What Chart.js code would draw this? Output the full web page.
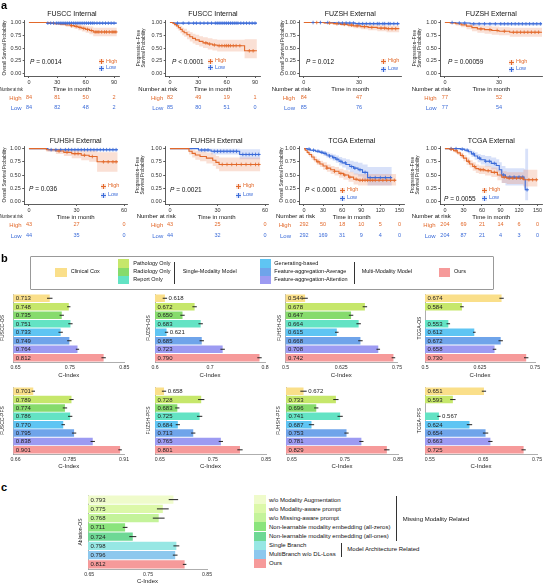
<!DOCTYPE html>
<html lang="en">
<head>
<meta charset="UTF-8">
<title>KM curves and C-index</title>
<script src="https://cdn.jsdelivr.net/npm/chart.js@4.4.0/dist/chart.umd.min.js"></script>
<style>
body { margin: 0; background: #fff; }
#page { position: relative; width: 546px; height: 584px; overflow: hidden; font-family: 'Liberation Sans', Arial, sans-serif; }
#page canvas { position: absolute; }
.t { position: absolute; white-space: nowrap; line-height: 1; }
.sw { position: absolute; }
.br { position: absolute; border: 1px solid #333; border-left: none; width: 3px; }
</style>
</head>
<body>
<div id="page"></div>
<script>
// ---------- panel a : Kaplan-Meier rows are [time, surv, lower, upper]
const fusccOsHigh = [[0,1,1,1],[21,0.99,0.97,1],[27,0.978,0.95,1],[33,0.966,0.935,0.995],[39,0.953,0.915,0.99],[44,0.94,0.9,0.98],[48,0.925,0.88,0.97],[52,0.905,0.85,0.96],[56,0.885,0.825,0.945],[60,0.865,0.8,0.93],[64,0.845,0.77,0.92],[68,0.815,0.73,0.9],[93,0.815,0.73,0.9]];
const fusccOsLow = [[0,1,1,1],[19,0.988,0.97,1],[93,0.988,0.97,1]];
const fusccOsHighCens = [45,50,54,58,62,66,70,72,74,77,80,82,85,88,90,92];
const fusccOsLowCens = [20,23,26,29,31,33,35,37,39,41,43,45,47,49,51,53,55,57,59,61,63,65,67,69,72,75,78,81,84,87,90];

const fusccPfsHigh = [[0,1,1,1],[3,0.985,0.96,1],[5,0.96,0.92,1],[7,0.935,0.88,0.98],[9,0.9,0.84,0.96],[11,0.865,0.79,0.93],[13,0.83,0.75,0.9],[15,0.8,0.72,0.88],[18,0.76,0.67,0.84],[21,0.72,0.63,0.81],[24,0.69,0.59,0.78],[27,0.66,0.56,0.76],[31,0.63,0.53,0.73],[35,0.6,0.5,0.71],[40,0.58,0.47,0.69],[45,0.56,0.45,0.67],[50,0.545,0.43,0.66],[79,0.445,0.3,0.67],[92,0.445,0.3,0.67]];
const fusccPfsLow = [[0,1,1,1],[4,0.988,0.965,1],[92,0.988,0.965,1]];
const fusccPfsHighCens = [38,42,47,52,55,58,60,62,64,67,70,74,84,88];
const fusccPfsLowCens = [8,14,20,25,28,32,36,40,44,48,50,52,54,56,58,60,62,64,66,68,70,72,75,78,81,84,87,90];

const fuzshOsHigh = [[0,1,1,1],[11,0.99,0.97,1],[16,0.978,0.95,1],[20,0.965,0.93,1],[24,0.95,0.91,0.99],[27,0.935,0.89,0.98],[31,0.92,0.87,0.97],[35,0.905,0.85,0.96],[40,0.89,0.83,0.95],[45,0.88,0.81,0.94],[52,0.88,0.81,0.94]];
const fuzshOsLow = [[0,1,1,1],[17,0.99,0.97,1],[28,0.978,0.95,1],[52,0.978,0.95,1]];
const fuzshOsHighCens = [7,14,18,22,26,29,33,37,42,44,46,48,50];
const fuzshOsLowCens = [5,9,13,19,21,23,25,27,30,32,34,36,38,40,41,43,44,46,47,49,51];

const fuzshPfsHigh = [[0,1,1,1],[3,0.99,0.97,1],[6,0.975,0.94,1],[9,0.955,0.91,0.99],[12,0.93,0.87,0.98],[15,0.9,0.83,0.96],[18,0.875,0.8,0.94],[22,0.86,0.78,0.93],[26,0.845,0.76,0.92],[30,0.83,0.75,0.91],[36,0.81,0.72,0.9],[54,0.81,0.72,0.9]];
const fuzshPfsLow = [[0,1,1,1],[6,0.99,0.97,1],[14,0.975,0.94,1],[54,0.975,0.94,1]];
const fuzshPfsHighCens = [20,25,29,33,38,40,42,44,46,48,50,52];
const fuzshPfsLowCens = [4,8,11,16,19,22,25,28,31,33,35,37,39,41,43,45,47,49,51,53];

const fuhshOsHigh = [[0,1,1,1],[11,0.98,0.94,1],[17,0.955,0.9,1],[22,0.93,0.86,1],[27,0.905,0.82,0.99],[33,0.875,0.78,0.97],[38,0.85,0.75,0.96],[43,0.75,0.56,0.93],[56,0.75,0.56,0.93]];
const fuhshOsLow = [[0,1,1,1],[12,0.98,0.95,1],[56,0.98,0.95,1]];
const fuhshOsHighCens = [19,24,29,31,35,40,47,50,53,55];
const fuhshOsLowCens = [14,17,20,23,25,27,29,31,33,35,37,39,41,43,45,47,49,51,53,55];

const fuhshPfsHigh = [[0,1,1,1],[12,0.95,0.89,1],[14,0.91,0.83,0.98],[16,0.88,0.79,0.96],[19,0.85,0.76,0.94],[23,0.82,0.72,0.92],[27,0.78,0.67,0.89],[29,0.74,0.62,0.86],[31,0.7,0.57,0.83],[57,0.7,0.57,0.83]];
const fuhshPfsLow = [[0,1,1,1],[18,0.975,0.93,1],[26,0.95,0.89,1],[44,0.89,0.8,0.99],[57,0.89,0.8,0.99]];
const fuhshPfsHighCens = [33,36,39,42,45,48,51,54,56];
const fuhshPfsLowCens = [20,22,24,28,30,32,34,36,38,40,42,46,48,50,52,54,56];

const tcgaOsHigh = [[0,1,1,1],[2,0.97,0.95,0.99],[5,0.93,0.9,0.96],[8,0.89,0.85,0.93],[12,0.84,0.79,0.89],[16,0.79,0.74,0.85],[20,0.75,0.69,0.81],[25,0.71,0.65,0.77],[30,0.67,0.6,0.74],[36,0.63,0.56,0.7],[42,0.6,0.52,0.67],[48,0.57,0.49,0.65],[55,0.53,0.45,0.62],[62,0.5,0.41,0.59],[70,0.46,0.37,0.56],[78,0.42,0.32,0.53],[85,0.4,0.3,0.52],[145,0.4,0.3,0.52]];
const tcgaOsLow = [[0,1,1,1],[5,0.99,0.97,1],[10,0.97,0.95,0.99],[18,0.95,0.92,0.98],[25,0.93,0.9,0.96],[30,0.91,0.87,0.95],[35,0.88,0.83,0.93],[40,0.86,0.8,0.91],[45,0.83,0.77,0.89],[50,0.8,0.73,0.87],[55,0.76,0.68,0.84],[60,0.73,0.64,0.82],[66,0.7,0.6,0.8],[72,0.66,0.55,0.77],[78,0.63,0.51,0.75],[85,0.6,0.47,0.73],[92,0.55,0.41,0.7],[100,0.45,0.3,0.65],[138,0.45,0.3,0.65]];
const tcgaOsHighCens = [22,36,48,58,64,72,82,88,92,96,100,104,108,112,118,124,130,136,142];
const tcgaOsLowCens = [8,15,22,28,33,40,47,52,58,65,75,80,88,96,104,112,120,128,136];

const tcgaPfsHigh = [[0,1,1,1],[8,0.99,0.97,1],[14,0.96,0.93,0.99],[20,0.92,0.88,0.96],[25,0.87,0.82,0.92],[30,0.82,0.76,0.88],[35,0.76,0.69,0.83],[40,0.71,0.64,0.78],[45,0.66,0.58,0.74],[50,0.62,0.54,0.7],[55,0.6,0.52,0.68],[65,0.58,0.49,0.67],[75,0.55,0.46,0.64],[85,0.5,0.4,0.6],[92,0.46,0.35,0.57],[100,0.44,0.33,0.55],[127,0.41,0.28,0.6],[150,0.41,0.28,0.6]];
const tcgaPfsLow = [[0,1,1,1],[25,0.99,0.97,1],[32,0.97,0.93,1],[38,0.94,0.89,0.99],[43,0.9,0.84,0.96],[48,0.86,0.79,0.93],[53,0.82,0.74,0.9],[58,0.79,0.7,0.88],[65,0.76,0.66,0.86],[75,0.72,0.61,0.83],[83,0.68,0.56,0.8],[88,0.6,0.46,0.74],[92,0.5,0.35,0.67],[98,0.46,0.3,0.63],[128,0.42,0.25,0.62],[130,0.22,0.02,1],[135,0.22,0.02,1]];
const tcgaPfsHighCens = [10,18,28,38,48,58,62,70,80,96,104,110,116,122,126,136,142,148];
const tcgaPfsLowCens = [10,18,28,36,46,56,66,72,80,95,105,112,120,126,133];

// number at risk, High / Low
const riskHigh = [[84,81,50,2],[82,49,19,1],[84,47],[77,52],[43,27,0],[43,25,0],[292,50,18,10,5,0],[204,69,21,14,6,0]];
const riskLow = [[84,82,48,2],[85,80,51,0],[85,76],[77,54],[44,35,0],[44,32,0],[292,169,31,9,4,0],[204,87,21,4,3,0]];
const kmTitles = ['FUSCC Internal','FUSCC Internal','FUZSH External','FUZSH External','FUHSH External','FUHSH External','TCGA External','TCGA External'];
const pValues = ['= 0.0014','&lt; 0.0001','= 0.012','= 0.00059','= 0.036','= 0.0021','&lt; 0.0001','= 0.0055'];
const kmYTicks = [0, 0.25, 0.5, 0.75, 1];

// ---------- panel b : C-index
const methods = ['Clinical Cox','Pathology Only','Radiology Only','Report Only','Generating-based','Feature-aggregation-Average','Feature-aggregation-Attention','Ours'];
const methodColors = ['#FADF8A','#C6E76B','#86DB6C','#63E3C4','#5FC5F3','#6FA4EA','#9D9BF2','#F69A9A'];
const fusccOsC = [0.713,0.748,0.735,0.751,0.733,0.749,0.764,0.812];
const fusccOsErr = [0.005,0.003,0.004,0.004,0.004,0.004,0.003,0.004];
const fuzshOsC = [0.618,0.672,0.650,0.683,0.621,0.685,0.723,0.790];
const fuzshOsErr = [0.004,0.004,0.004,0.004,0.003,0.004,0.004,0.004];
const fuhshOsC = [0.544,0.678,0.647,0.664,0.615,0.668,0.708,0.742];
const fuhshOsErr = [0.006,0.005,0.005,0.005,0.004,0.005,0.004,0.004];
const tcgaOsC = [0.674,0.584,null,0.553,0.612,0.672,0.658,0.730];
const tcgaOsErr = [0.005,0.004,0,0.004,0.003,0.005,0.004,0.005];
const fusccPfsC = [0.701,0.789,0.774,0.786,0.770,0.795,0.838,0.901];
const fusccPfsErr = [0.004,0.005,0.005,0.005,0.004,0.005,0.005,0.004];
const fuzshPfsC = [0.658,0.728,0.683,0.725,0.684,0.713,0.765,0.801];
const fuzshPfsErr = [0.004,0.006,0.004,0.005,0.004,0.004,0.004,0.005];
const fuhshPfsC = [0.672,0.733,0.696,0.741,0.687,0.753,0.781,0.829];
const fuhshPfsErr = [0.006,0.005,0.004,0.005,0.005,0.004,0.004,0.005];
const tcgaPfsC = [0.651,0.593,null,0.567,0.624,0.654,0.663,0.725];
const tcgaPfsErr = [0.004,0.005,0,0.003,0.005,0.005,0.004,0.004];

// ---------- panel c : ablation
const ablations = ['w/o Modality Augmentation','w/o Modality-aware prompt','w/o Missing-aware prompt','Non-learnable modality embedding (all-zeros)','Non-learnable modality embedding (all-ones)','Single Branch','MultiBranch w/o DL-Loss','Ours'];
const ablationColors = ['#EFFBCB','#DCF8A8','#C4F39A','#8AE47C','#6ED895','#97E7E4','#8DC8EE','#F69A9A'];
const ablationC = [0.793,0.775,0.768,0.711,0.724,0.798,0.796,0.812];
const ablationErr = [0.008,0.01,0.01,0.004,0.006,0.005,0.004,0.003];

const HIGH = '#E2692B', LOW = '#3B6BD8';
const HIGH_BAND = 'rgba(238,140,100,0.27)', LOW_BAND = 'rgba(90,130,230,0.24)';

Chart.defaults.font.family = "'Liberation Sans', Arial, sans-serif";
Chart.defaults.color = '#222';
Chart.defaults.animation = false;
Chart.defaults.responsive = false;
Chart.defaults.events = [];
Chart.defaults.plugins.legend.display = false;
Chart.defaults.plugins.tooltip.enabled = false;

const page = document.getElementById('page');

function txt(x, y, s, size, color, align, extra) {
  const d = document.createElement('div');
  d.className = 't';
  d.innerHTML = s;
  const tx = align === 'right' ? '-100%' : align === 'center' ? '-50%' : '0';
  d.style.cssText = `left:${x}px;top:${y}px;font-size:${size}px;color:${color || '#111'};transform:translate(${tx},-50%);${extra || ''}`;
  page.appendChild(d);
  return d;
}
function box(x, y, w, h, bg, cls) {
  const d = document.createElement('div');
  d.className = cls || 'sw';
  d.style.left = x + 'px'; d.style.top = y + 'px';
  d.style.width = w + 'px'; d.style.height = h + 'px';
  if (bg) d.style.background = bg;
  page.appendChild(d);
  return d;
}
function addCanvas(left, top, w, h) {
  const c = document.createElement('canvas');
  c.width = w; c.height = h;
  c.style.left = left + 'px'; c.style.top = top + 'px';
  c.style.width = w + 'px'; c.style.height = h + 'px';
  page.appendChild(c);
  return c;
}
function survAt(rows, t) {
  let s = 1;
  rows.forEach(r => { if (r[0] <= t) s = r[1]; });
  return s;
}

// layout of the 8 survival panels (plot area in page px)
const kmPlots = [
  {high: fusccOsHigh, low: fusccOsLow, hc: fusccOsHighCens, lc: fusccOsLowCens, left: 24.7, right: 120.3, min: -4.5, max: 95.5, ticks: [0,30,60,90], tx: 4, os: true, p: [30,62], key: [99,61.5,68.3], nr: [0, 21.7], squeeze: true},
  {high: fusccPfsHigh, low: fusccPfsLow, hc: fusccPfsHighCens, lc: fusccPfsLowCens, left: 165.7, right: 261.3, min: -4.5, max: 95.5, ticks: [0,30,60,90], tx: 138, os: false, p: [172,61.5], key: [208,61,67.5], nr: [138.3, 163.3]},
  {high: fuzshOsHigh, low: fuzshOsLow, hc: fuzshOsHighCens, lc: fuzshOsLowCens, left: 299.3, right: 403, min: -2.5, max: 53, ticks: [0,30], tx: 282.3, os: true, p: [306,62], key: [381,61,69], nr: [271.7, 295]},
  {high: fuzshPfsHigh, low: fuzshPfsLow, hc: fuzshPfsHighCens, lc: fuzshPfsLowCens, left: 440.4, right: 543.5, min: -2.5, max: 54, ticks: [0,30], tx: 414, os: false, p: [448,62], key: [509,62,69], nr: [411.7, 436.7]},
  {high: fuhshOsHigh, low: fuhshOsLow, hc: fuhshOsHighCens, lc: fuhshOsLowCens, left: 24.2, right: 128.2, min: -3, max: 62, ticks: [0,30,60], tx: 4, os: true, p: [29,189], key: [101,186,195], nr: [0, 21.7], squeeze: true},
  {high: fuhshPfsHigh, low: fuhshPfsLow, hc: fuhshPfsHighCens, lc: fuhshPfsLowCens, left: 165.2, right: 269.2, min: -3, max: 62, ticks: [0,30,60], tx: 137.7, os: false, p: [170,190], key: [236,186,195], nr: [136.7, 163.3]},
  {high: tcgaOsHigh, low: tcgaOsLow, hc: tcgaOsHighCens, lc: tcgaOsLowCens, left: 299.2, right: 405.9, min: -7.5, max: 157.5, ticks: [0,30,60,90,120,150], tx: 281, os: true, p: [305,190], key: [340,190,198], nr: [276, 291]},
  {high: tcgaPfsHigh, low: tcgaPfsLow, hc: tcgaPfsHighCens, lc: tcgaPfsLowCens, left: 440.3, right: 543.7, min: -7.5, max: 157.5, ticks: [0,30,60,90,120,150], tx: 412.7, os: false, p: [444,199], key: [482,190,198], nr: [411.7, 435.7]}
];

function kmKey(x, y, col, band, label) {
  const b = box(x, y - 2.5, 5, 5, band);
  b.innerHTML = `<div style="position:absolute;left:0;top:2px;width:5px;height:1px;background:${col}"></div><div style="position:absolute;left:2px;top:0;width:1px;height:5px;background:${col}"></div>`;
  txt(x + 7, y, label, 5.5, col);
}

function drawKm(p, i) {
  const row = i < 4 ? 0 : 1;
  const cTop = row === 0 ? 10 : 137;
  const H = row === 0 ? 83 : 84;
  const areaTop = row === 0 ? 20 : 146;
  const xH = 17;
  const titleOff = 4.6 * 1.2 / 2 + 0.5;
  const cLeft = Math.round(p.tx - titleOff);
  const yW = p.left - cLeft;
  const W = Math.ceil(p.right + 3) - cLeft;
  const padR = W - yW - (p.right - p.left);
  const cv = addCanvas(cLeft, cTop, W, H);
  const pts = (rows, k) => rows.map(r => ({x: r[0], y: r[k]}));
  const cens = (rows, ts) => ts.map(t => ({x: t, y: survAt(rows, t)}));
  const bandStyle = {stepped: true, borderWidth: 0, borderColor: 'rgba(0,0,0,0)', pointRadius: 0, order: 3};
  const chart = new Chart(cv, {
    type: 'line',
    data: {datasets: [
      {data: pts(p.high, 3), fill: '+1', backgroundColor: HIGH_BAND, ...bandStyle},
      {data: pts(p.high, 2), fill: false, ...bandStyle},
      {data: pts(p.low, 3), fill: '+1', backgroundColor: LOW_BAND, ...bandStyle},
      {data: pts(p.low, 2), fill: false, ...bandStyle},
      {data: pts(p.high, 1), stepped: true, borderColor: HIGH, borderWidth: 1.1, pointRadius: 0, fill: false, order: 1},
      {data: pts(p.low, 1), stepped: true, borderColor: LOW, borderWidth: 1.1, pointRadius: 0, fill: false, order: 1},
      {data: cens(p.high, p.hc), showLine: false, pointStyle: 'cross', pointRadius: 1.8, pointBorderWidth: 0.8, pointBorderColor: HIGH, order: 0},
      {data: cens(p.low, p.lc), showLine: false, pointStyle: 'cross', pointRadius: 1.8, pointBorderWidth: 0.8, pointBorderColor: LOW, order: 0}
    ]},
    options: {
      layout: {padding: {top: 0, right: padR, left: 0, bottom: 0}},
      plugins: {
        title: {display: true, text: kmTitles[i], fullSize: false, color: '#111',
          font: {size: 7, weight: 'normal'}, padding: {top: 0, bottom: areaTop - cTop - 8.4}}
      },
      scales: {
        x: {type: 'linear', min: p.min, max: p.max,
          afterBuildTicks: s => { s.ticks = p.ticks.map(v => ({value: v})); },
          ticks: {font: {size: 5.5}, color: '#333', padding: 1, autoSkip: false, maxRotation: 0},
          grid: {drawOnChartArea: false, tickLength: 2, color: '#333', lineWidth: 0.8},
          border: {color: '#333', width: 0.8},
          title: {display: true, text: 'Time in month', font: {size: 6}, padding: 0, color: '#111'},
          afterFit: s => { s.height = xH; }
        },
        y: {type: 'linear', min: -0.05, max: 1.05,
          afterBuildTicks: s => { s.ticks = kmYTicks.map(v => ({value: v})); },
          ticks: {callback: v => v.toFixed(2), font: {size: 5.5}, color: '#333', padding: 1.5},
          grid: {drawOnChartArea: false, tickLength: 2, color: '#333', lineWidth: 0.8},
          border: {color: '#333', width: 0.8},
          title: {display: true, text: p.os ? 'Overall Survival Probability' : ['Progression\u2212Free', 'Survival Probability'],
            font: {size: 4.6}, padding: {top: 0.5, bottom: 0}, color: '#222'},
          afterFit: s => { s.width = yW; }
        }
      }
    }
  });

  // p value + key inside the plot
  txt(p.p[0], p.p[1], '<i>P</i> ' + pValues[i], 6.5, '#111');
  kmKey(p.key[0], p.key[1], HIGH, HIGH_BAND, 'High');
  kmKey(p.key[0], p.key[2], LOW, LOW_BAND, 'Low');

  // number at risk table
  const ys = row === 0 ? [89, 98, 108] : [216, 225, 235.5];
  const nr = txt(p.nr[0], ys[0], 'Number at risk', 6, '#111');
  if (p.squeeze) {
    nr.style.transformOrigin = '0 50%';
    nr.style.transform = 'translate(0,-50%) scaleX(0.58)';
  }
  txt(p.nr[1], ys[1], 'High', 6, HIGH, 'right');
  txt(p.nr[1], ys[2], 'Low', 6, LOW, 'right');
  const xs = chart.scales.x;
  p.ticks.forEach((t, k) => {
    const x = cLeft + xs.getPixelForValue(t);
    txt(x, ys[1], riskHigh[i][k], 5.5, HIGH, 'center');
    txt(x, ys[2], riskLow[i][k], 5.5, LOW, 'center');
  });
}
kmPlots.forEach(drawKm);

// ---------- bar charts: error bars + value labels
const barDeco = {
  id: 'barDeco',
  afterDatasetsDraw(chart) {
    const ds = chart.data.datasets[0];
    const meta = chart.getDatasetMeta(0);
    const xs = chart.scales.x;
    const ctx = chart.ctx;
    ctx.save();
    ctx.font = '6px "Liberation Sans", Arial, sans-serif';
    ctx.textBaseline = 'middle';
    ctx.textAlign = 'left';
    meta.data.forEach((bar, i) => {
      const v = ds.data[i];
      if (v == null) return;
      const e = ds.errs[i];
      const x1 = xs.getPixelForValue(v - e), x2 = xs.getPixelForValue(v + e);
      ctx.strokeStyle = '#222';
      ctx.lineWidth = 1;
      ctx.beginPath();
      ctx.moveTo(x1, bar.y); ctx.lineTo(x2, bar.y);
      ctx.stroke();
      // bars are clipped at the axis, so measure from the chart area edge
      const start = Math.max(bar.base, chart.chartArea.left);
      const end = xs.getPixelForValue(v);
      ctx.fillStyle = '#222';
      const inside = end - start > 19;
      ctx.fillText(v.toFixed(3), inside ? start + 2.5 : x2 + 1.5, bar.y + 0.3);
    });
    ctx.restore();
  }
};

const barPlots = [
  {name: 'FUSCC-OS', vals: fusccOsC, errs: fusccOsErr, min: 0.646, max: 0.85, ticks: [0.65,0.75,0.85], left: 13.3, right: 124.3, top: 294, bottom: 362, xH: 17, tx: 2.7},
  {name: 'FUZSH-OS', vals: fuzshOsC, errs: fuzshOsErr, min: 0.6, max: 0.8, ticks: [0.6,0.7,0.8], left: 155, right: 265, top: 294, bottom: 362, xH: 17, tx: 149.3},
  {name: 'FUHSH-OS', vals: fuhshOsC, errs: fuhshOsErr, min: 0.5, max: 0.75, ticks: [0.5,0.625,0.75], left: 285.5, right: 397, top: 294, bottom: 362, xH: 17, tx: 280},
  {name: 'TCGA-OS', vals: tcgaOsC, errs: tcgaOsErr, min: 0.5, max: 0.75, ticks: [0.5,0.625,0.75], left: 425, right: 535, top: 294, bottom: 362, xH: 17, tx: 420},
  {name: 'FUSCC-PFS', vals: fusccPfsC, errs: fusccPfsErr, min: 0.655, max: 0.91, ticks: [0.66,0.785,0.91], left: 13.3, right: 124, top: 387, bottom: 454, xH: 16, tx: 3},
  {name: 'FUZSH-PFS', vals: fuzshPfsC, errs: fuzshPfsErr, min: 0.641, max: 0.85, ticks: [0.65,0.75,0.85], left: 155, right: 266, top: 387, bottom: 454, xH: 16, tx: 149},
  {name: 'FUHSH-PFS', vals: fuhshPfsC, errs: fuhshPfsErr, min: 0.639, max: 0.85, ticks: [0.65,0.75,0.85], left: 286, right: 398, top: 387, bottom: 454, xH: 16, tx: 279},
  {name: 'TCGA-PFS', vals: tcgaPfsC, errs: tcgaPfsErr, min: 0.541, max: 0.75, ticks: [0.55,0.65,0.75], left: 425, right: 537, top: 387, bottom: 454, xH: 16, tx: 420},
  {name: 'Ablation-OS', vals: ablationC, errs: ablationErr, min: 0.648, max: 0.85, ticks: [0.65,0.75,0.85], left: 88, right: 207, top: 495, bottom: 569, xH: 16, tx: 81, labels: ablations, colors: ablationColors}
];

function drawBars(b) {
  const cLeft = Math.max(0, Math.round(b.tx - 3));
  const yW = b.left - cLeft;
  const W = Math.ceil(b.right + 8) - cLeft;
  const padR = W - yW - (b.right - b.left);
  const H = b.bottom - b.top + b.xH;
  const cv = addCanvas(cLeft, b.top, W, H);
  new Chart(cv, {
    type: 'bar',
    data: {
      labels: b.labels || methods,
      datasets: [{data: b.vals, errs: b.errs, backgroundColor: b.colors || methodColors,
        borderWidth: 0, barPercentage: 0.9, categoryPercentage: 1}]
    },
    options: {
      indexAxis: 'y',
      layout: {padding: {top: 0, right: padR, left: 0, bottom: 0}},
      scales: {
        x: {type: 'linear', min: b.min, max: b.max,
          afterBuildTicks: s => { s.ticks = b.ticks.map(v => ({value: v})); },
          ticks: {font: {size: 5.2}, color: '#333', padding: 2, autoSkip: false, maxRotation: 0,
            callback: v => String(+v.toFixed(3))},
          grid: {drawOnChartArea: false, drawTicks: false},
          border: {color: '#999', width: 0.8},
          title: {display: true, text: 'C-Index', font: {size: 6}, padding: 0, color: '#222'},
          afterFit: s => { s.height = b.xH; }
        },
        y: {ticks: {display: false},
          grid: {drawOnChartArea: false, drawTicks: false},
          border: {color: '#999', width: 0.8},
          title: {display: true, text: b.name, font: {size: 5}, padding: 0, color: '#222'},
          afterFit: s => { s.width = yW; }
        }
      }
    },
    plugins: [barDeco]
  });
}
barPlots.forEach(drawBars);

// ---------- panel letters
txt(1, 5, 'a', 11, '#000', '', 'font-weight:bold');
txt(1, 258, 'b', 11, '#000', '', 'font-weight:bold');
txt(1, 487, 'c', 11, '#000', '', 'font-weight:bold');

// ---------- legend b
const lb = box(30, 256, 462, 32, null);
lb.style.border = '1px solid #999';
lb.style.borderRadius = '1px';
box(55, 267.7, 11.7, 9, methodColors[0]);
txt(70.7, 272, methods[0], 5.5);
[1, 2, 3].forEach((m, k) => {
  box(118.3, 259.3 + k * 8.4, 11, 8.4, methodColors[m]);
  txt(133.3, 263.5 + k * 8.4, methods[m], 5.5);
});
box(174, 261.7, 0, 20, null, 'br');
txt(182.7, 272, 'Single-Modality Model', 5.5);
[4, 5, 6].forEach((m, k) => {
  box(260, 259.3 + k * 8.4, 10.7, 8.4, methodColors[m]);
  txt(274.3, 263.5 + k * 8.4, methods[m], 5.5);
});
box(354, 261.7, 0, 20, null, 'br');
txt(361.7, 272, 'Multi-Modality Model', 5.5);
box(439.3, 267.7, 10.7, 9, methodColors[7]);
txt(454, 272, methods[7], 5.5);

// ---------- legend c
ablations.forEach((a, k) => {
  box(254, 495.3 + k * 9.05, 12, 9.05, ablationColors[k]);
  txt(269, 499.8 + k * 9.05, a, 6);
});
box(396, 495.5, 0, 43, null, 'br');
txt(402.7, 519.3, 'Missing Modality Related', 6);
box(340.5, 542.7, 0, 12.5, null, 'br');
txt(347.3, 548.5, 'Model Architecture Related', 6);
</script>
</body>
</html>
